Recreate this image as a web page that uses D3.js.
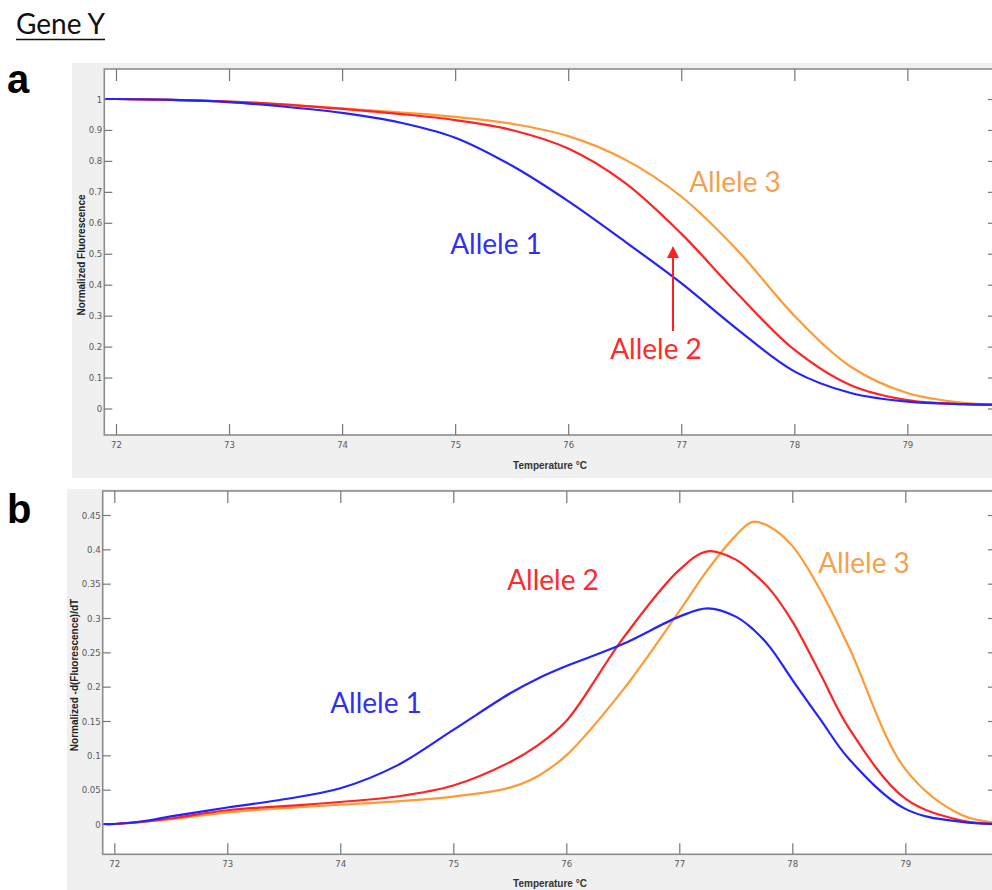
<!DOCTYPE html>
<html>
<head>
<meta charset="utf-8">
<script src="https://cdn.jsdelivr.net/npm/d3@7"></script>
<style>
  html, body { margin: 0; padding: 0; background: #fff; }
  svg { display: block; }
  .tick text { font-family: "Liberation Sans Narrow", "Arial Narrow", "DejaVu Sans Condensed", sans-serif; font-size: 9.5px; fill: #5a5a5a; }
</style>
</head>
<body>
<script>
// ---------- DATA ----------
const seriesNames = ["Allele 1", "Allele 2", "Allele 3"];
const xTicks = [72, 73, 74, 75, 76, 77, 78, 79];
const yTicksMelt = [0, 0.1, 0.2, 0.3, 0.4, 0.5, 0.6, 0.7, 0.8, 0.9, 1];
const yTicksDeriv = [0, 0.05, 0.1, 0.15, 0.2, 0.25, 0.3, 0.35, 0.4, 0.45];

// panel a: normalized fluorescence (melt curves)
const meltTemps   = [71.9, 72, 72.5, 73, 73.5, 74, 74.5, 75, 75.5, 76, 76.5, 77, 77.5, 78, 78.5, 79, 79.5, 79.9];
const meltAllele1 = [1.0, 1.0, 0.997, 0.99, 0.975, 0.955, 0.925, 0.875, 0.785, 0.67, 0.54, 0.405, 0.255, 0.12, 0.05, 0.022, 0.014, 0.012];
const meltAllele2 = [1.0, 1.0, 0.997, 0.992, 0.982, 0.968, 0.952, 0.932, 0.9, 0.84, 0.73, 0.565, 0.37, 0.19, 0.075, 0.027, 0.014, 0.012];
const meltAllele3 = [1.0, 1.0, 0.997, 0.992, 0.982, 0.97, 0.957, 0.942, 0.92, 0.88, 0.805, 0.685, 0.51, 0.3, 0.135, 0.05, 0.018, 0.012];

// panel b: normalized -d(Fluorescence)/dT
const derivTemps   = [71.9, 72, 72.25, 72.5, 73, 73.5, 74, 74.5, 75, 75.5, 75.75, 76, 76.5, 77, 77.25, 77.5, 77.65, 77.8, 78, 78.25, 78.5, 79, 79.5, 79.9];
const derivAllele1 = [0, 0, 0.004, 0.011, 0.024, 0.036, 0.052, 0.085, 0.137, 0.19, 0.212, 0.23, 0.262, 0.302, 0.314, 0.302, 0.284, 0.258, 0.21, 0.152, 0.095, 0.022, 0.003, 0];
const derivAllele2 = [0, 0, 0.003, 0.008, 0.02, 0.026, 0.032, 0.04, 0.056, 0.09, 0.115, 0.15, 0.27, 0.37, 0.397, 0.385, 0.366, 0.342, 0.295, 0.218, 0.14, 0.037, 0.005, 0];
const derivAllele3 = [0, 0, 0.003, 0.007, 0.017, 0.023, 0.028, 0.033, 0.04, 0.053, 0.07, 0.1, 0.195, 0.31, 0.37, 0.42, 0.44, 0.433, 0.405, 0.34, 0.258, 0.08, 0.013, 0];

const lineColors  = ["#2323ff", "#ff2424", "#ff9a35"];
const labelColors = ["#2f2ff5", "#ff2a2a", "#f5a04e"];

// ---------- DRAW ----------
const W = 992, H = 890;
const svg = d3.select("body").append("svg").attr("width", W).attr("height", H);

svg.append("text").attr("x", 16).attr("y", 34)
  .attr("font-family", "Lato, 'Open Sans', sans-serif").attr("font-size", 28).attr("fill", "#111")
  .text("Gene Y");
svg.append("line").attr("x1", 16).attr("x2", 105).attr("y1", 39.5).attr("y2", 39.5)
  .attr("stroke", "#111").attr("stroke-width", 1.5);

function panel(cfg) {
  const g = svg.append("g");
  g.append("rect").attr("x", cfg.bg[0]).attr("y", cfg.bg[1]).attr("width", cfg.bg[2]).attr("height", cfg.bg[3]).attr("fill", "#f0f0f0");
  g.append("text").attr("x", 7).attr("y", cfg.letterY)
    .attr("font-family", "'Liberation Sans', Arial, sans-serif").attr("font-weight", "bold").attr("font-size", 40).attr("fill", "#000")
    .text(cfg.letter);

  const x = d3.scaleLinear().domain([72, 79]).range([cfg.x72, cfg.x72 + 7 * cfg.pxPerDeg]);
  const y = d3.scaleLinear().domain([0, cfg.yTop]).range([cfg.y0, cfg.yTopPx]);
  const left = cfg.left, top = cfg.top, bottom = cfg.bottom, right = 1000;

  g.append("rect").attr("x", left).attr("y", top).attr("width", right - left).attr("height", bottom - top)
    .attr("fill", "#fff").attr("stroke", "#8c8c8c").attr("stroke-width", 1.6);

  const axisStyle = sel => {
    sel.select(".domain").remove();
    sel.selectAll(".tick line").attr("stroke", "#777").attr("stroke-width", 1.2);
  };
  g.append("g").attr("transform", `translate(0,${bottom})`)
    .call(d3.axisBottom(x).tickValues(xTicks).tickFormat(d3.format("d")).tickSize(-11).tickPadding(6))
    .call(axisStyle);
  g.append("g").attr("transform", `translate(0,${top})`)
    .call(d3.axisTop(x).tickValues(xTicks).tickFormat("").tickSize(-12))
    .call(axisStyle);
  g.append("g").attr("transform", `translate(${left},0)`)
    .call(d3.axisLeft(y).tickValues(cfg.yTicks).tickFormat(d => String(d)).tickSize(-8).tickPadding(2))
    .call(axisStyle);
  g.append("g").attr("transform", `translate(${996},0)`)
    .call(d3.axisRight(y).tickValues(cfg.yTicks).tickFormat("").tickSize(-8))
    .call(axisStyle);

  g.append("text").attr("x", 550).attr("y", cfg.xLabelY).attr("text-anchor", "middle")
    .attr("font-family", "'Liberation Sans Narrow', 'Arial Narrow', sans-serif").attr("font-size", 10).attr("font-weight", "bold").attr("fill", "#333")
    .text("Temperature °C");
  g.append("text").attr("transform", `translate(${cfg.yLabelX},${cfg.yLabelY}) rotate(-90)`).attr("text-anchor", "middle")
    .attr("font-family", "'Liberation Sans', Arial, sans-serif").attr("font-size", 10).attr("font-weight", "bold").attr("fill", "#222")
    .text(cfg.yLabel);

  const clipId = "clip" + cfg.letter;
  g.append("clipPath").attr("id", clipId).append("rect").attr("x", left + 1).attr("y", top + 1).attr("width", right - left).attr("height", bottom - top - 2);
  const line = d3.line().x(d => x(d[0])).y(d => y(d[1])).curve(d3.curveCatmullRom.alpha(0.5));
  [2, 1, 0].forEach(i => {
    const pts = cfg.temps.map((t, k) => [t, cfg.series[i][k]]);
    g.append("path").datum(pts).attr("d", line).attr("fill", "none")
      .attr("stroke", lineColors[i]).attr("stroke-width", 2.2).attr("clip-path", `url(#${clipId})`);
  });

  cfg.labels.forEach((p, i) => {
    g.append("text").attr("x", p[0]).attr("y", p[1]).attr("text-anchor", "middle")
      .attr("font-family", "Lato, 'Open Sans', sans-serif").attr("font-size", 28).attr("fill", labelColors[i])
      .text(seriesNames[i]);
  });
  return { x, y, g };
}

panel({
  letter: "a", letterY: 93, bg: [72, 63, 920, 415],
  left: 104.3, top: 69, bottom: 435,
  x72: 116, pxPerDeg: 113.05, y0: 408.5, yTopPx: 99, yTop: 1,
  yTicks: yTicksMelt, yLabel: "Normalized Fluorescence", yLabelX: 85, yLabelY: 255,
  xLabelY: 469,
  temps: meltTemps, series: [meltAllele1, meltAllele2, meltAllele3],
  labels: [[496, 254], [656, 359], [735, 192]]
});

svg.append("defs").append("marker").attr("id", "arrowhead").attr("viewBox", "0 0 10 10")
  .attr("refX", 5).attr("refY", 5).attr("markerWidth", 6).attr("markerHeight", 7).attr("orient", "auto")
  .append("path").attr("d", "M0,0 L10,5 L0,10 z").attr("fill", "#ff1f1f");
svg.append("line").attr("x1", 673).attr("y1", 331).attr("x2", 673).attr("y2", 252)
  .attr("stroke", "#ff1f1f").attr("stroke-width", 2).attr("marker-end", "url(#arrowhead)");

panel({
  letter: "b", letterY: 523, bg: [67, 489, 930, 401],
  left: 102.7, top: 491, bottom: 854.3,
  x72: 114.3, pxPerDeg: 113.0, y0: 824, yTopPx: 515, yTop: 0.45,
  yTicks: yTicksDeriv, yLabel: "Normalized -d(Fluorescence)/dT", yLabelX: 78, yLabelY: 675,
  xLabelY: 887,
  temps: derivTemps, series: [derivAllele1, derivAllele2, derivAllele3],
  labels: [[376, 713], [553, 590], [864, 573]]
});
</script>
</body>
</html>
